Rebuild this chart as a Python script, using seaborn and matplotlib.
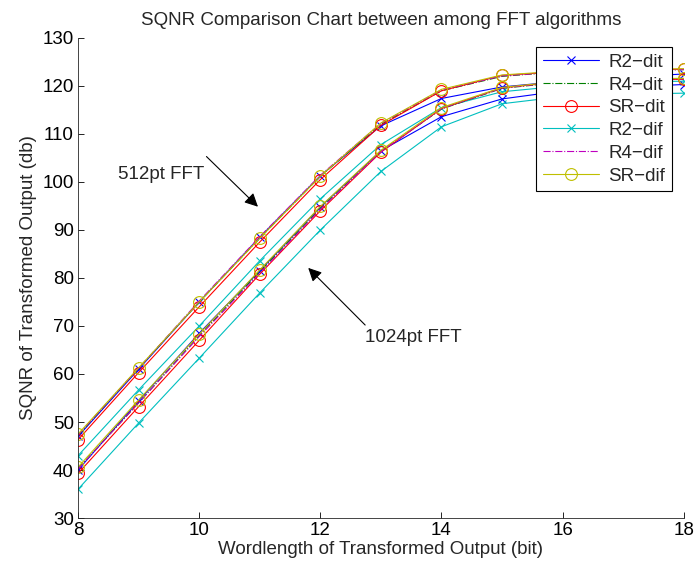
import numpy as np
import pandas as pd
import matplotlib
matplotlib.use('Agg')
import matplotlib.pyplot as plt
import seaborn as sns

# Wordlength (bit)
wordlength = [8, 9, 10, 11, 12, 13, 14, 15, 16, 17, 18]

# 512pt FFT
r2_dit_512 = [47.0, 61.0, 75.0, 88.5, 101.3, 111.7, 117.4, 119.8, 121.0, 121.8, 122.5]
r4_dit_512 = [47.2, 61.2, 75.0, 88.3, 101.2, 112.0, 119.0, 122.0, 123.0, 123.3, 123.4]
sr_dit_512 = [46.3, 60.3, 74.0, 87.5, 100.5, 111.8, 119.0, 122.2, 123.0, 123.3, 123.5]
r2_dif_512 = [43.0, 56.7, 70.0, 83.6, 96.5, 107.8, 115.5, 118.8, 120.0, 120.8, 121.0]
r4_dif_512 = [47.3, 61.2, 75.2, 88.6, 101.4, 112.2, 119.2, 122.1, 123.0, 123.3, 123.4]
sr_dif_512 = [47.5, 61.3, 75.0, 88.3, 101.2, 112.3, 119.3, 122.3, 123.1, 123.4, 123.6]

# 1024pt FFT
r2_dit_1024 = [40.0, 54.4, 68.5, 81.5, 94.8, 106.5, 113.6, 117.3, 119.0, 119.8, 120.3]
r4_dit_1024 = [40.3, 54.0, 68.0, 81.3, 94.5, 106.4, 115.2, 119.5, 120.8, 121.3, 121.5]
sr_dit_1024 = [39.3, 53.2, 67.0, 80.8, 94.0, 106.2, 115.3, 119.6, 120.9, 121.3, 121.4]
r2_dif_1024 = [36.0, 49.8, 63.3, 76.9, 90.0, 102.2, 111.5, 116.3, 117.8, 118.3, 118.5]
r4_dif_1024 = [40.2, 54.0, 67.8, 81.0, 94.3, 106.3, 115.3, 119.6, 120.9, 121.3, 121.5]
sr_dif_1024 = [40.6, 54.6, 68.3, 81.7, 94.9, 106.6, 115.5, 119.7, 121.0, 121.4, 121.6]

names = ['R2\u2212dit', 'R4\u2212dit', 'SR\u2212dit', 'R2\u2212dif', 'R4\u2212dif', 'SR\u2212dif']
series_512 = [r2_dit_512, r4_dit_512, sr_dit_512, r2_dif_512, r4_dif_512, sr_dif_512]
series_1024 = [r2_dit_1024, r4_dit_1024, sr_dit_1024, r2_dif_1024, r4_dif_1024, sr_dif_1024]

# matlab style: b, g, r, c, m, y
styles = [
    dict(color=(0, 0, 1), marker='x', linestyle='-', markersize=6),
    dict(color=(0, 0.5, 0), marker=None, linestyle='-.', markersize=6),
    dict(color=(1, 0, 0), marker='o', linestyle='-', markersize=8.5),
    dict(color=(0, 0.75, 0.75), marker='x', linestyle='-', markersize=6),
    dict(color=(0.75, 0, 0.75), marker=None, linestyle='-.', markersize=6),
    dict(color=(0.75, 0.75, 0), marker='o', linestyle='-', markersize=8.5),
]

FS = 13.5

sns.set_style('ticks')
plt.rcParams['font.family'] = ['Liberation Sans', 'DejaVu Sans']

fig = plt.figure(figsize=(6.97, 5.71), dpi=100)
ax = fig.add_axes([0.112, 0.0928, 0.869, 0.8407])

handles = []
for group_idx, group in enumerate([series_512, series_1024]):
    for name, vals, st in zip(names, group, styles):
        df = pd.DataFrame({'x': wordlength, 'y': vals})
        sns.lineplot(data=df, x='x', y='y', ax=ax, color=st['color'],
                     linestyle=st['linestyle'], marker=st['marker'],
                     markersize=st['markersize'], markerfacecolor='none',
                     markeredgecolor=st['color'], markeredgewidth=0.8,
                     linewidth=0.8, label=name if group_idx == 0 else None)
        if group_idx == 0:
            handles.append(ax.lines[-1])

ax.set_xlim(8, 18)
ax.set_ylim(30, 130)
ax.set_xticks(range(8, 19, 2))
ax.set_yticks(range(30, 131, 10))
ax.tick_params(direction='in', labelsize=FS, length=4, width=0.6, colors='black', pad=3)
for side in ['top', 'right']:
    ax.spines[side].set_visible(False)
for side in ['left', 'bottom']:
    ax.spines[side].set_linewidth(0.6)

ax.set_xlabel('Wordlength of Transformed Output (bit)', fontsize=FS, labelpad=1)
ax.set_ylabel('SQNR of Transformed Output (db)', fontsize=FS, labelpad=4)
ax.set_title('SQNR Comparison Chart between among FFT algorithms', fontsize=FS, pad=9)

# annotations
ax.text(8.66, 101.5, '512pt FFT', fontsize=FS, va='center', ha='left')
ax.annotate('', xy=(10.97, 94.85), xytext=(10.12, 105.3),
            arrowprops=dict(arrowstyle='-|>', color='black', lw=0.8,
                            shrinkA=0, shrinkB=0, mutation_scale=20))
ax.text(12.74, 67.7, '1024pt FFT', fontsize=FS, va='center', ha='left')
ax.annotate('', xy=(11.8, 82.1), xytext=(12.74, 70.2),
            arrowprops=dict(arrowstyle='-|>', color='black', lw=0.8,
                            shrinkA=0, shrinkB=0, mutation_scale=20))

leg = ax.legend(handles=handles, labels=names, loc='upper right',
                bbox_to_anchor=(0.980, 0.981), borderaxespad=0, fontsize=FS,
                frameon=True, fancybox=False, edgecolor='black', framealpha=1,
                handlelength=3.0, handletextpad=0.5, numpoints=1,
                borderpad=0.35, labelspacing=0.3)
leg.get_frame().set_linewidth(0.8)

fig.savefig('out.png', dpi=100)
